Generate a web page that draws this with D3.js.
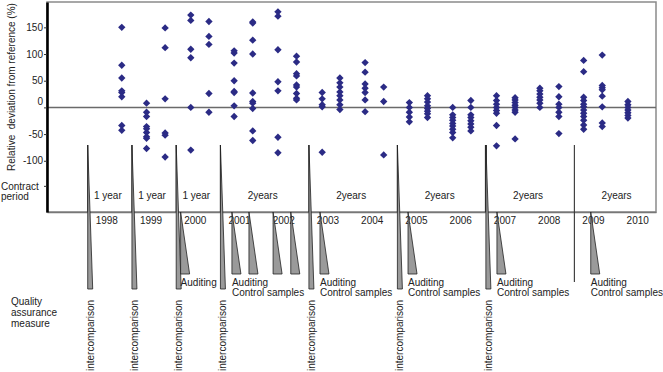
<!DOCTYPE html>
<html><head><meta charset="utf-8">
<script src="https://cdn.jsdelivr.net/npm/d3@7"></script>
<style>
html,body{margin:0;padding:0;background:#fff;}
svg{display:block;font-family:"Liberation Sans",Arial,sans-serif;}
</style></head><body>
<svg id="chart" width="663" height="372"></svg>
<script>
// ---- data ----
const campaignTimes = [1998.77, 1999.33, 1999.75, 2000.33, 2000.74, 2001.31, 2001.73, 2002.30, 2002.72,
  2003.30, 2003.70, 2004.27, 2004.69, 2005.27, 2005.68, 2006.25, 2006.66, 2007.24, 2007.66,
  2008.22, 2008.65, 2009.21, 2009.63, 2010.21];
const campaignValues = [
  [150, 79, 55, 31, 28, 20, -34, -43],
  [8, -9, -17, -36, -40, -47, -55, -58, -77],
  [149, 112, 16, -48, -52, -93],
  [173, 163, 109, 93, 0, -80],
  [161, 133, 118, 26, -9],
  [106, 102, 83, 50, 30, 28, 3, -17],
  [160, 158, 126, 100, 27, 11, 8, -2, -44, -62],
  [179, 171, 108, 48, 31, -56, -85],
  [96, 85, 63, 59, 42, 38, 26, 17, 14],
  [28, 16, 5, 1, -84],
  [55, 46, 38, 29, 22, 14, 5, -4],
  [84, 66, 44, 36, 28, 14, -8],
  [38, 11, -89],
  [9, 0, -9, -18, -27],
  [22, 16, 10, 3, -2, -7, -12, -19],
  [0, -14, -19, -24, -30, -35, -41, -47, -57],
  [13, 0, -14, -19, -25, -31, -37, -44],
  [22, 13, 6, 0, -6, -11, -34, -72],
  [18, 14, 9, 4, 0, -5, -9, -59],
  [36, 31, 25, 19, 14, 8, 0],
  [39, 20, 6, 0, -9, -17, -49],
  [88, 67, 19, 13, 6, 1, -5, -11, -17, -24, -33, -41],
  [98, 41, 37, 33, 21, 1, -29, -36],
  [11, 5, 0, -5, -10, -15, -20]
];
const yTickValues = [150, 100, 50, 0, -50, -100];
const contractRowValue = -147;
const yearLabels = [1998, 1999, 2000, 2001, 2002, 2003, 2004, 2005, 2006, 2007, 2008, 2009, 2010];
const periodStarts = [1998, 1999, 2000, 2001, 2003, 2005, 2007, 2009];
const periodEnds   = [1999, 2000, 2001, 2003, 2005, 2007, 2009, 2011];
const periodLabels = ["1 year", "1 year", "1 year", "2years", "2years", "2years", "2years", "2years"];
const intercomparisonTimes = [1998, 1999, 2000, 2001, 2003, 2005, 2007];
const auditingTimes = [2000.1, 2001.26, 2001.645, 2002.19, 2002.59, 2003.25, 2005.24, 2007.25, 2009.37];
const auditingLabelTimes = [2000.1, 2001.26, 2003.25, 2005.24, 2007.25, 2009.37];
const auditingLabelTexts = [["Auditing"], ["Auditing", "Control samples"], ["Auditing", "Control samples"],
  ["Auditing", "Control samples"], ["Auditing", "Control samples"], ["Auditing", "Control samples"]];

// ---- layout ----
const L = 47, R = 656, T = 2, B = 212;
const svg = d3.select("#chart");
const x = d3.scaleLinear().domain([1997.08, 2010.845]).range([L, R]);
const y = d3.scaleLinear().domain([-196, 197.5]).range([B, T]);
const txt = "#222";

// frame
svg.append("rect").attr("x", L).attr("y", T).attr("width", R - L).attr("height", B - T)
  .attr("fill", "none").attr("stroke", "#8a8a8a").attr("stroke-width", 1.5);

// zero line
svg.append("line").attr("x1", L).attr("x2", R).attr("y1", y(0)).attr("y2", y(0))
  .attr("stroke", "#6a6a6a").attr("stroke-width", 1.5);

// bottom axis with year labels
const xAxis = svg.append("g").attr("transform", `translate(0,${B})`)
  .call(d3.axisBottom(x).tickValues(yearLabels.map(d => d + 0.42)).tickSize(0).tickSizeOuter(0)
    .tickPadding(5).tickFormat((d, i) => yearLabels[i]));
xAxis.select(".domain").attr("stroke", "#777").attr("stroke-width", 1.5);
xAxis.selectAll("text").attr("font-size", 10).attr("fill", txt).attr("font-family", "Liberation Sans, Arial, sans-serif");

// left axis
const yAxis = svg.append("g").attr("transform", `translate(${L},0)`)
  .call(d3.axisLeft(y).tickValues(yTickValues.concat([contractRowValue])).tickSize(3).tickSizeOuter(0)
    .tickPadding(1).tickFormat(d => d === contractRowValue ? "" : d));
yAxis.select(".domain").attr("stroke", "#000").attr("stroke-width", 2.6);
yAxis.selectAll(".tick line").attr("stroke", "#333");
yAxis.selectAll("text").attr("font-size", 10).attr("fill", txt).attr("font-family", "Liberation Sans, Arial, sans-serif");
yAxis.selectAll(".tick").filter(d => d === 0).select("text").attr("dy", "-0.28em");

// y title
svg.append("text").attr("transform", `translate(15,${87}) rotate(-90)`)
  .attr("text-anchor", "middle").attr("font-size", 10).attr("fill", txt)
  .style("white-space", "pre").text("Relative  deviation from reference (%)");

// Contract period label
svg.append("text").attr("x", 1).attr("y", 190).attr("font-size", 10).attr("fill", txt).text("Contract");
svg.append("text").attr("x", 1).attr("y", 200).attr("font-size", 10).attr("fill", txt).text("period");

// period boundary lines (non-intercomparison ones extend below)
svg.selectAll("line.period").data(periodStarts).join("line").attr("class", "period")
  .attr("x1", d => x(d)).attr("x2", d => x(d)).attr("y1", 145)
  .attr("y2", d => intercomparisonTimes.includes(d) ? B : 282)
  .attr("stroke", "#333").attr("stroke-width", d => d === 2007 ? 2 : 1.1);

// period labels
svg.selectAll("text.plabel").data(periodLabels).join("text").attr("class", "plabel")
  .attr("x", (d, i) => x((periodStarts[i] + periodEnds[i]) / 2) - 2).attr("y", 199)
  .attr("text-anchor", "middle").attr("font-size", 10).attr("fill", txt).text(d => d);

// intercomparison wedges
svg.selectAll("path.ic").data(intercomparisonTimes).join("path").attr("class", "ic")
  .attr("d", d => { const px = x(d); return `M${px},145L${px},289L${px + 5},289Z`; })
  .attr("fill", "#9a9a9a").attr("stroke", "#222").attr("stroke-width", 0.8);
svg.selectAll("text.ic").data(intercomparisonTimes).join("text").attr("class", "ic")
  .attr("transform", d => `translate(${x(d) + 6},371) rotate(-90)`)
  .attr("font-size", 10).attr("fill", txt).text("intercomparison");

// auditing wedges
svg.selectAll("path.aud").data(auditingTimes).join("path").attr("class", "aud")
  .attr("d", d => { const px = x(d); return `M${px},${B}L${px},274L${px + 9},274Z`; })
  .attr("fill", "#9a9a9a").attr("stroke", "#222").attr("stroke-width", 0.8);
const audG = svg.selectAll("g.audl").data(auditingLabelTimes).join("g").attr("class", "audl");
audG.selectAll("text").data((d, i) => auditingLabelTexts[i].map((s, j) => ({ t: d, s, j }))).join("text")
  .attr("x", d => x(d.t)).attr("y", d => 286 + d.j * 10)
  .attr("font-size", 10).attr("fill", txt).text(d => d.s);

// Quality assurance measure
["Quality", "assurance", "measure"].forEach((s, i) =>
  svg.append("text").attr("x", 11).attr("y", 305 + i * 11).attr("font-size", 10).attr("fill", txt).text(s));

// data points
const pts = campaignTimes.flatMap((t, i) => campaignValues[i].map(v => ({ t, v })));
const sym = d3.symbol(d3.symbolSquare, 27)();
svg.selectAll("path.pt").data(pts).join("path").attr("class", "pt").attr("d", sym)
  .attr("transform", d => `translate(${x(d.t)},${y(d.v)}) rotate(45)`)
  .attr("fill", "#2b2b85");
</script></body></html>
